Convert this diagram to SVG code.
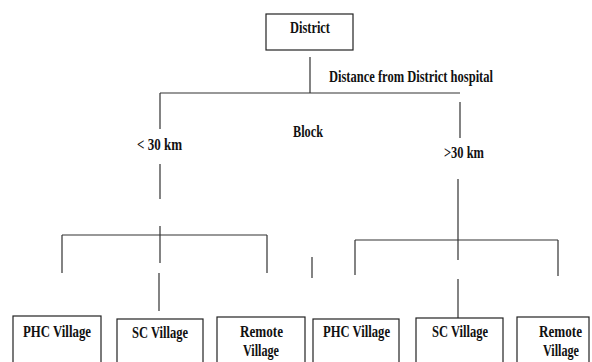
<svg xmlns="http://www.w3.org/2000/svg" width="592" height="362" viewBox="0 0 592 362">
<style>
.box{fill:#fff;stroke:#222;stroke-width:1.2}
.ln{stroke:#333;stroke-width:1.2;fill:none}
</style>
<rect width="592" height="362" fill="#fff"/>
<g id="connectors">
<path class="ln" d="M310,57V93 M160,93H460 M160,93V129 M160,164V199 M160,226V263 M159,273V311 M62,235H267 M62,235V273 M267,235V273 M460,102V138 M458,179V260 M458,279V318 M355,240H558 M355,240V275 M558,240V276 M312,257V278"/>
</g>
<g font-family="Liberation Serif, Times New Roman, serif" font-weight="bold" font-size="16" fill="#111">
<g id="labels">
<text x="329" y="82" textLength="164" lengthAdjust="spacingAndGlyphs">Distance from District hospital</text>
<text x="293" y="137" textLength="30" lengthAdjust="spacingAndGlyphs">Block</text>
<text x="137" y="150" textLength="45" lengthAdjust="spacingAndGlyphs">&lt; 30 km</text>
<text x="444" y="158" textLength="40" lengthAdjust="spacingAndGlyphs">&gt;30 km</text>
</g>
<g id="district">
<rect class="box" x="266" y="14" width="87" height="36"/>
<text x="290" y="33" textLength="40" lengthAdjust="spacingAndGlyphs">District</text>
</g>
<g id="phc1">
<rect class="box" x="13" y="316" width="88" height="70"/>
<text x="23" y="337" textLength="68" lengthAdjust="spacingAndGlyphs">PHC Village</text>
</g>
<g id="sc1">
<rect class="box" x="117" y="319" width="86" height="70"/>
<text x="132" y="338" textLength="56" lengthAdjust="spacingAndGlyphs">SC Village</text>
</g>
<g id="remote1">
<rect class="box" x="217" y="317" width="88" height="70"/>
<text x="240" y="337" textLength="43" lengthAdjust="spacingAndGlyphs">Remote</text>
<text x="243" y="356" textLength="36" lengthAdjust="spacingAndGlyphs">Village</text>
</g>
<g id="phc2">
<rect class="box" x="313" y="319" width="86" height="70"/>
<text x="323" y="337" textLength="67" lengthAdjust="spacingAndGlyphs">PHC Village</text>
</g>
<g id="sc2">
<rect class="box" x="416" y="318" width="87" height="70"/>
<text x="432" y="337" textLength="56" lengthAdjust="spacingAndGlyphs">SC Village</text>
</g>
<g id="remote2">
<rect class="box" x="517" y="317" width="72" height="70"/>
<text x="539" y="337" textLength="43" lengthAdjust="spacingAndGlyphs">Remote</text>
<text x="543" y="356" textLength="36" lengthAdjust="spacingAndGlyphs">Village</text>
</g>
</g>
</svg>
